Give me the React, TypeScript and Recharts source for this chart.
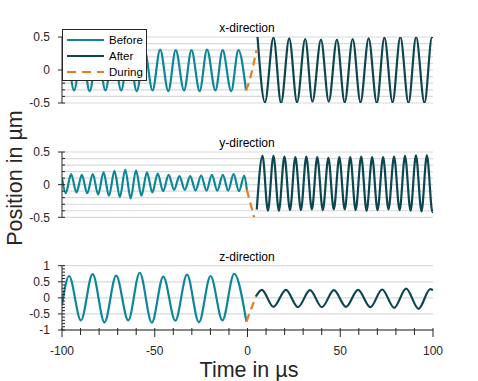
import { LineChart, Line, XAxis, YAxis, CartesianGrid, Legend } from "recharts";

type Pt = [number, number];

// x-direction (time in µs, position in µm)
const X_BEFORE: Pt[] = [
  [-100, 0.02], [-97.7, 0.3], [-93.5, -0.31], [-89.3, 0.3], [-85.1, -0.32], [-80.8, 0.3],
  [-76.6, -0.31], [-72.4, 0.3], [-68.1, -0.31], [-64.0, 0.3], [-59.7, -0.32], [-55.5, 0.3],
  [-51.2, -0.31], [-47.1, 0.31], [-42.7, -0.32], [-38.7, 0.3], [-34.2, -0.31], [-30.2, 0.3],
  [-25.8, -0.32], [-21.8, 0.31], [-17.3, -0.31], [-13.4, 0.3], [-8.8, -0.32], [-4.9, 0.3],
  [-0.8, -0.31],
];
const X_DURING: Pt[] = [[-0.8, -0.31], [1.2, -0.15], [4.8, 0.3]];
const X_AFTER: Pt[] = [
  [5.4, 0.5], [9.4, -0.49], [14.0, 0.49], [18.1, -0.5], [22.5, 0.48], [26.7, -0.49],
  [31.1, 0.47], [35.0, -0.48], [39.6, 0.46], [43.8, -0.48], [48.2, 0.46], [52.4, -0.49],
  [56.7, 0.47], [60.9, -0.49], [65.3, 0.48], [69.7, -0.5], [73.8, 0.49], [78.2, -0.49],
  [82.4, 0.5], [86.8, -0.5], [90.9, 0.5], [95.4, -0.5], [99.5, 0.5], [100, 0.49],
];

// y-direction
const Y_BEFORE: Pt[] = [
  [-100, 0.1], [-98.0, -0.13], [-95.1, 0.16], [-92.2, -0.12], [-89.3, 0.15], [-86.4, -0.13],
  [-83.4, 0.16], [-80.5, -0.15], [-77.6, 0.19], [-74.7, -0.17], [-71.7, 0.21], [-68.8, -0.19],
  [-65.9, 0.23], [-63.0, -0.21], [-60.1, 0.22], [-57.2, -0.17], [-54.2, 0.19], [-51.3, -0.12],
  [-48.4, 0.17], [-45.5, -0.1], [-42.5, 0.15], [-39.6, -0.08], [-36.7, 0.13], [-33.8, -0.08],
  [-30.9, 0.13], [-28.0, -0.09], [-25.0, 0.14], [-22.1, -0.09], [-19.2, 0.15], [-16.3, -0.09],
  [-13.3, 0.15], [-10.4, -0.09], [-7.5, 0.16], [-4.6, -0.1], [-1.7, 0.14], [-0.35, -0.08],
];
const Y_DURING: Pt[] = [[-0.35, -0.08], [3.6, -0.5]];
const Y_AFTER: Pt[] = [
  [5.0, -0.38], [8.1, 0.44], [11.0, -0.4], [14.0, 0.44], [16.9, -0.4], [19.9, 0.43],
  [22.9, -0.39], [25.8, 0.42], [28.8, -0.39], [31.7, 0.43], [34.7, -0.38], [37.6, 0.42],
  [40.6, -0.39], [43.6, 0.41], [46.5, -0.38], [49.5, 0.42], [52.4, -0.38], [55.4, 0.42],
  [58.3, -0.39], [61.3, 0.43], [64.2, -0.4], [67.2, 0.42], [70.1, -0.39], [73.1, 0.42],
  [76.0, -0.38], [79.0, 0.43], [82.0, -0.39], [84.9, 0.44], [87.9, -0.4], [90.8, 0.45],
  [93.8, -0.41], [96.7, 0.45], [99.7, -0.42], [100, -0.41],
];

// z-direction
const Z_BEFORE: Pt[] = [
  [-100, -0.23], [-96.2, 0.68], [-89.8, -0.7], [-83.5, 0.74], [-77.1, -0.76], [-70.8, 0.69],
  [-64.3, -0.7], [-58.1, 0.78], [-51.6, -0.77], [-45.4, 0.66], [-38.9, -0.71], [-32.6, 0.72],
  [-26.2, -0.76], [-19.9, 0.68], [-13.5, -0.7], [-7.2, 0.75], [-0.6, -0.74],
];
const Z_DURING: Pt[] = [[-0.6, -0.74], [4.5, 0.04]];
const Z_AFTER: Pt[] = [
  [4.5, 0.04], [7.7, 0.25], [14.0, -0.28], [20.7, 0.25], [27.2, -0.29], [33.7, 0.24],
  [40.1, -0.29], [46.6, 0.24], [53.1, -0.28], [59.6, 0.25], [66.2, -0.29], [72.6, 0.26],
  [79.1, -0.31], [85.5, 0.29], [92.2, -0.34], [98.5, 0.27], [100, 0.24],
];

const TIME_TICKS = [-100, -90, -80, -70, -60, -50, -40, -30, -20, -10, 0, 10, 20, 30, 40, 50, 60, 70, 80, 90, 100];
const TIME_LABELS = [-100, -50, 0, 50, 100];
const XY_TICKS = [-0.5, -0.4, -0.3, -0.2, -0.1, 0, 0.1, 0.2, 0.3, 0.4, 0.5];
const XY_LABELS = [-0.5, 0, 0.5];
const Z_TICKS = [-1, -0.9, -0.8, -0.7, -0.6, -0.5, -0.4, -0.3, -0.2, -0.1, 0, 0.1, 0.2, 0.3, 0.4, 0.5, 0.6, 0.7, 0.8, 0.9, 1];
const Z_LABELS = [-1, -0.5, 0, 0.5, 1];
const SERIES_ORDER = ["Before", "After", "During"];

const BEFORE_COLOR = "#0b8799";
const AFTER_COLOR = "#0c4651";
const DURING_COLOR = "#e97b22";
const AXIS_COLOR = "#262626";
const GRID_COLOR = "#d9d9d9";
const FONT = '"Liberation Sans", Arial, Helvetica, sans-serif';

const TICK_SIZE = 4;
const TICK_MARGIN = 8;
const X_TICK_SIZE = 6;
const X_TICK_MARGIN = 10;

const rows = (pts: Pt[]) => pts.map(([t, v]) => ({ t, v }));

const makeYTick = (labels: number[]) => (props: any) => {
  const { x, y, payload } = props;
  const axisX = x + TICK_SIZE + TICK_MARGIN;
  const major = labels.includes(payload.value);
  return (
    <g>
      <line x1={major ? axisX - 4 : axisX} x2={axisX + 3} y1={y} y2={y} stroke={AXIS_COLOR} />
      {major && (
        <text x={x} y={y} dy="0.35em" textAnchor="end" fontSize={12} fontFamily={FONT} fill={AXIS_COLOR}>
          {String(payload.value)}
        </text>
      )}
    </g>
  );
};

const TimeTick = (props: any) => {
  const { x, y, payload } = props;
  const axisY = y - X_TICK_SIZE - X_TICK_MARGIN;
  const major = TIME_LABELS.includes(payload.value);
  return (
    <g>
      <line x1={x} x2={x} y1={axisY - 2} y2={axisY + (major ? 7 : 5)} stroke={AXIS_COLOR} />
      {major && (
        <text x={x} y={y} dy="0.71em" textAnchor="middle" fontSize={12} fontFamily={FONT} fill={AXIS_COLOR}>
          {String(payload.value)}
        </text>
      )}
    </g>
  );
};

const DASHES: Record<string, string | undefined> = { Before: undefined, After: undefined, During: "9 6" };

function LegendBox({ payload }: any) {
  const items = [...(payload ?? [])].sort(
    (a: any, b: any) => SERIES_ORDER.indexOf(a.value) - SERIES_ORDER.indexOf(b.value)
  );
  return (
    <div
      style={{
        width: 85,
        height: 52,
        boxSizing: "border-box",
        border: `1px solid ${AXIS_COLOR}`,
        background: "#fff",
        padding: "2px 0 0 4px",
        fontFamily: FONT,
        fontSize: 11.5,
        color: "#000",
        textAlign: "left",
      }}
    >
      {items.map((e: any) => (
        <div key={e.value} style={{ display: "flex", alignItems: "center", height: 16 }}>
          <svg width={37} height={6} style={{ marginRight: 5, display: "block" }}>
            <line x1={0} x2={37} y1={3} y2={3} stroke={e.color} strokeWidth={2.2} strokeDasharray={DASHES[e.value]} />
          </svg>
          <span>{e.value}</span>
        </div>
      ))}
    </div>
  );
}

interface PanelProps {
  top: number;
  height: number;
  margin: { top: number; right: number; bottom: number; left: number };
  domain: [number, number];
  ticks: number[];
  labels: number[];
  grid?: number[];
  before: Pt[];
  during: Pt[];
  after: Pt[];
  showTime?: boolean;
  legend?: boolean;
}

function Panel({ top, height, margin, domain, ticks, labels, grid, before, during, after, showTime, legend }: PanelProps) {
  return (
    <div style={{ position: "absolute", left: 0, top }}>
      <LineChart width={478} height={height} margin={margin}>
        <CartesianGrid vertical={false} stroke={GRID_COLOR} strokeWidth={1.2} horizontalValues={grid} />
        <XAxis
          type="number"
          dataKey="t"
          domain={[-100, 100]}
          ticks={TIME_TICKS}
          interval={0}
          hide={!showTime}
          height={30}
          allowDataOverflow
          axisLine={{ stroke: AXIS_COLOR }}
          tickLine={false}
          tickSize={X_TICK_SIZE}
          tickMargin={X_TICK_MARGIN}
          tick={TimeTick}
        />
        <YAxis
          type="number"
          domain={domain}
          ticks={ticks}
          interval={0}
          width={62}
          allowDataOverflow
          axisLine={{ stroke: AXIS_COLOR }}
          tickLine={false}
          tickSize={TICK_SIZE}
          tickMargin={TICK_MARGIN}
          tick={makeYTick(labels)}
        />
        {legend && (
          <Legend
            layout="horizontal"
            verticalAlign="middle"
            align="center"
            content={LegendBox}
            wrapperStyle={{ left: 62, top: 29, width: 85, height: 52 }}
          />
        )}
        <Line data={rows(before)} dataKey="v" name="Before" type="monotone" stroke={BEFORE_COLOR} strokeWidth={2.2} dot={false} activeDot={false} isAnimationActive={false} />
        <Line data={rows(after)} dataKey="v" name="After" type="monotone" stroke={AFTER_COLOR} strokeWidth={2.2} dot={false} activeDot={false} isAnimationActive={false} />
        <Line data={rows(during)} dataKey="v" name="During" type="monotone" stroke={DURING_COLOR} strokeWidth={2.2} strokeDasharray="8 5" dot={false} activeDot={false} isAnimationActive={false} />
      </LineChart>
    </div>
  );
}

export default function App() {
  return (
    <div style={{ position: "absolute", left: 0, top: 0, width: 478, height: 381, background: "#fff" }}>
      <Panel
        top={0}
        height={112}
        margin={{ top: 37, right: 45, bottom: 9, left: 0 }}
        domain={[-0.5, 0.5]}
        ticks={XY_TICKS}
        labels={XY_LABELS}
        before={X_BEFORE}
        during={X_DURING}
        after={X_AFTER}
        legend
      />
      <Panel
        top={115}
        height={112}
        margin={{ top: 37, right: 45, bottom: 9.7, left: 0 }}
        domain={[-0.5, 0.5]}
        ticks={XY_TICKS}
        labels={XY_LABELS}
        before={Y_BEFORE}
        during={Y_DURING}
        after={Y_AFTER}
      />
      <Panel
        top={250}
        height={110}
        margin={{ top: 15.7, right: 45, bottom: 0, left: 0 }}
        domain={[-1, 1]}
        ticks={Z_TICKS}
        labels={Z_LABELS}
        grid={Z_LABELS}
        before={Z_BEFORE}
        during={Z_DURING}
        after={Z_AFTER}
        showTime
      />
      <svg width={478} height={381} style={{ position: "absolute", left: 0, top: 0, pointerEvents: "none" }}>
        <g fontFamily={FONT} fill="#000" fontSize={12} textAnchor="middle">
          <text x={247} y={32}>x-direction</text>
          <text x={247} y={146.5}>y-direction</text>
          <text x={247} y={260.5}>z-direction</text>
        </g>
        <g fontFamily={FONT} fill={AXIS_COLOR} fontSize={21.5} textAnchor="middle">
          <text x={249} y={377}>Time in µs</text>
          <text x={21.5} y={178} transform="rotate(-90 21.5 178)">Position in µm</text>
        </g>
      </svg>
    </div>
  );
}
